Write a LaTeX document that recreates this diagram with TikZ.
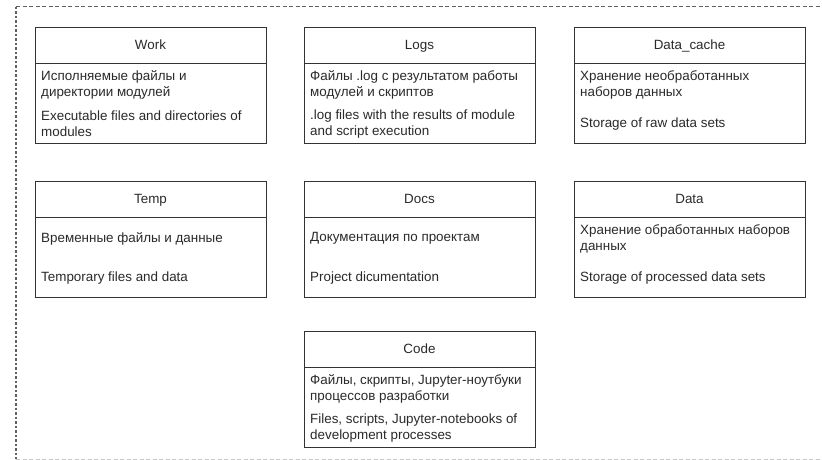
\documentclass[tikz,border=0pt]{standalone}
\usepackage{fontspec}
\setmainfont{Liberation Sans}
\definecolor{boxc}{HTML}{333333}
\definecolor{txtc}{HTML}{2A2A2A}
\definecolor{framec}{HTML}{606060}
\definecolor{framelight}{HTML}{C8C8C8}
\tikzset{
  box/.style={draw=boxc, line width=0.9pt, minimum width=231pt, minimum height=116pt, anchor=north west, inner sep=0pt, outer sep=0pt},
  sep/.style={draw=boxc, line width=0.9pt},
  ttl/.style={font=\fontsize{13.4}{16}\selectfont, text=txtc, inner sep=0pt, anchor=base},
  txt/.style={font=\fontsize{13.4}{16}\selectfont, text=txtc, anchor=west, align=left, inner sep=2pt},
  frame/.style={draw=framec, line width=1pt, dash pattern=on 4pt off 2.5pt},
  framel/.style={draw=framec, line width=1.3pt, dash pattern=on 2.5pt off 2pt},
  frameb/.style={draw=framelight, line width=1pt, dash pattern=on 4pt off 2.5pt}
}
\newcommand\dbox[6]{%
  \node[box] (#1) at (#2,-#3) {};
  \draw[sep] ([yshift=-36pt]#1.north west) -- ([yshift=-36pt]#1.north east);
  \node[ttl] (#1-t) at ([yshift=-22.5pt]#1.north) {#4};
  \node[txt] (#1-a) at ([xshift=4pt,yshift=-57.5pt]#1.north west) {#5};
  \node[txt] (#1-b) at ([xshift=4pt,yshift=-97.2pt]#1.north west) {#6};
}
\begin{document}
\begin{tikzpicture}[x=1pt,y=1pt]
\useasboundingbox (0,0) rectangle (822,-460);
\fill[white] (0,0) rectangle (822,-460);
\coordinate (ftl) at (16,-7);
\coordinate (ftr) at (824,-7);
\coordinate (fbl) at (16,-459);
\coordinate (fbr) at (824,-459);
\draw[frame] (ftl) -- (ftr);
\draw[framel] (ftl) -- (fbl);
\draw[frameb] (fbl) -- (fbr);
\dbox{work}{35}{27}{Work}{Исполняемые файлы и\\директории модулей}{Executable files and directories of\\modules}
\dbox{logs}{304}{27}{Logs}{Файлы .log с результатом работы\\модулей и скриптов}{.log files with the results of module\\and script execution}
\dbox{cache}{574}{27}{Data\_cache}{Хранение необработанных\\наборов данных}{Storage of raw data sets}
\dbox{temp}{35}{181}{Temp}{Временные файлы и данные}{Temporary files and data}
\dbox{docs}{304}{181}{Docs}{Документация по проектам}{Project dicumentation}
\dbox{data}{574}{181}{Data}{Хранение обработанных наборов\\данных}{Storage of processed data sets}
\dbox{code}{304}{331}{Code}{Файлы, скрипты, Jupyter-ноутбуки\\процессов разработки}{Files, scripts, Jupyter-notebooks of\\development processes}
\end{tikzpicture}
\end{document}
